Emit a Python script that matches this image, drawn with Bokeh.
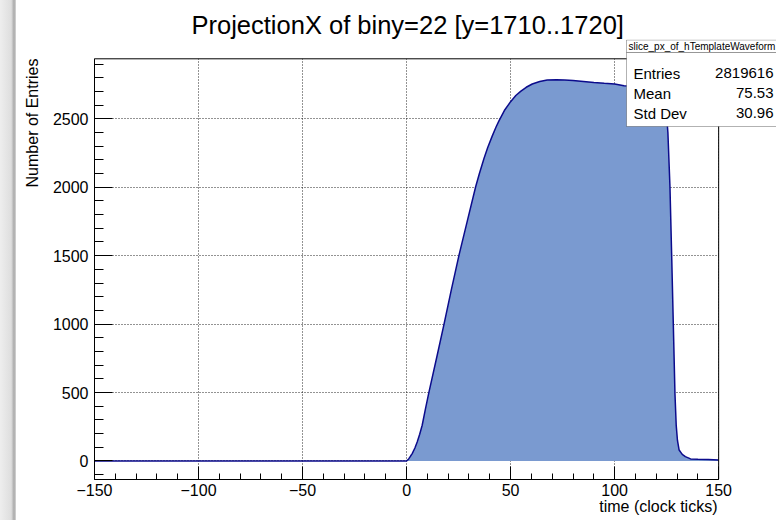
from bokeh.plotting import figure
from bokeh.models import (FixedTicker, Label, BoxAnnotation, Range1d,
                          ColumnDataSource, Div, Title)
from bokeh.layouts import row
from bokeh.embed import file_html
from bokeh.resources import INLINE

# ---------------- data ----------------
title_text = "ProjectionX of biny=22 [y=1710..1720]"
x_axis_title = "time (clock ticks)"
y_axis_title = "Number of Entries"
hist_name = "slice_px_of_hTemplateWaveform"
stat_names = ["Entries", "Mean", "Std Dev"]
stat_values = ["2819616", "75.53", "30.96"]

time_ticks = [-150, 0, 1, 2, 2.7, 4, 5.1, 6.3, 7.5, 9, 10.7, 14.5, 18, 21.5,
              25.2, 29.2, 33.2, 35, 37.2, 39, 41.2, 43, 44.4, 47, 50, 52.5,
              54.8, 57.5, 60.4, 64, 67.6, 72, 76, 80, 85, 90, 95, 100, 104.5,
              110, 115, 120, 122.5, 124, 125, 125.6, 126.6, 127.4, 128.2, 129,
              129.6, 130.2, 131, 132.5, 134, 136.5, 140, 145, 150]
counts = [0, 0, 15, 38, 54, 95, 139, 195, 261, 375, 500, 758, 1000, 1250,
          1504, 1754, 2003, 2100, 2210, 2290, 2375, 2440, 2485, 2560, 2625, 2670,
          2700, 2730, 2754, 2772, 2783, 2785, 2784, 2780, 2773, 2765, 2759, 2754, 2741,
          2735, 2728, 2715, 2690, 2630, 2520, 2400, 2000, 1510, 1000, 490,
          260, 150, 80, 48, 32, 15, 12, 10, 8]

x_major_ticks = [-150, -100, -50, 0, 50, 100, 150]
x_tick_labels = ["\u2212150", "\u2212100", "\u221250", "0", "50", "100", "150"]
x_minor_ticks = list(range(-150, 151, 10))
y_major_ticks = [0, 500, 1000, 1500, 2000, 2500]
y_tick_labels = ["0", "500", "1000", "1500", "2000", "2500"]
y_minor_ticks = list(range(-100, 2901, 100))

# ROOT frame limits, and the wider Bokeh view (room for the stats box)
x_frame = (-150, 150)
y_frame = (-135, 2938)
x_view = (-150, 177.8)
y_view = (-135.2, 3079)

# ---------------- styling ----------------
FONT = "Liberation Sans"
FILL = "#7a9ad0"
LINE = "#0b0b8c"
BAND = 16
W, H = 776 - BAND, 520
FRAME_TOP, FRAME_BOTTOM, FRAME_LEFT, FRAME_RIGHT = 39, 479, 93, 776  # page px


def sx(px):
    return px - FRAME_LEFT


def sy(py):
    return FRAME_BOTTOM - py


p = figure(width=W, height=H, output_backend="svg", toolbar_location=None,
           x_range=Range1d(*x_view), y_range=Range1d(*y_view),
           min_border_left=FRAME_LEFT - BAND, min_border_right=0,
           min_border_top=FRAME_TOP, min_border_bottom=H - FRAME_BOTTOM,
           background_fill_color="white", border_fill_color="white")
p.outline_line_color = None

p.title.text = title_text
p.title.align = "left"
p.title.offset = 190 - FRAME_LEFT
p.title.vertical_align = "bottom"
p.title.text_font = FONT
p.title.text_font_size = "25.5px"
p.title.text_font_style = "normal"
p.title.text_color = "black"
p.title.standoff = 2

xt = FixedTicker(ticks=x_major_ticks, minor_ticks=x_minor_ticks)
yt = FixedTicker(ticks=y_major_ticks, minor_ticks=y_minor_ticks)
p.xaxis.ticker = xt
p.yaxis.ticker = yt
p.xgrid.ticker = FixedTicker(ticks=x_major_ticks)
p.ygrid.ticker = FixedTicker(ticks=y_major_ticks)
p.xaxis.major_label_overrides = dict(zip(x_major_ticks, x_tick_labels))
p.yaxis.major_label_overrides = dict(zip(y_major_ticks, y_tick_labels))
p.xaxis.bounds = x_frame
p.yaxis.bounds = y_frame

for ax in (p.xaxis[0], p.yaxis[0]):
    ax.major_tick_out = 0
    ax.minor_tick_out = 0
    ax.axis_line_color = "black"
    ax.major_tick_line_color = "black"
    ax.minor_tick_line_color = "black"
    ax.major_label_text_font = FONT
    ax.major_label_text_font_size = "16px"
    ax.major_label_text_color = "black"
p.xaxis.major_label_standoff = 4
p.yaxis.major_label_standoff = 6
p.xaxis.major_tick_in = 13
p.xaxis.minor_tick_in = 6
p.yaxis.major_tick_in = 18
p.yaxis.minor_tick_in = 9

p.grid.grid_line_color = "black"
p.grid.grid_line_dash = "1 2"
p.grid.grid_line_width = 1
p.grid.grid_line_alpha = 0.85

# hide the view outside the ROOT frame (grid overflow)
p.add_layout(BoxAnnotation(left=x_frame[1], fill_color="white", fill_alpha=1,
                           line_alpha=0, level="underlay"))
p.add_layout(BoxAnnotation(bottom=y_frame[1], fill_color="white", fill_alpha=1,
                           line_alpha=0, level="underlay"))

src = ColumnDataSource(dict(t=time_ticks, n=counts))
p.varea(x="t", y1=0, y2="n", source=src, fill_color=FILL)
p.line(x="t", y="n", source=src, line_color=LINE, line_width=1.5)

# top and right edges of the ROOT frame
p.segment(x0=[x_frame[0], x_frame[1]], y0=[y_frame[1], y_frame[0]],
          x1=[x_frame[1], x_frame[1]], y1=[y_frame[1], y_frame[1]],
          line_color="black", line_width=1)

# axis titles (ROOT aligns them to the axis end)
ytitle = Title(text=y_axis_title, align="right", offset=58 - FRAME_TOP,
               vertical_align="top", text_font=FONT, text_font_size="16px",
               text_font_style="normal", text_color="black", standoff=14)
p.add_layout(ytitle, "left")
xtitle = Title(text=x_axis_title, align="right", offset=FRAME_RIGHT - 717,
               vertical_align="top", text_font=FONT, text_font_size="16px",
               text_font_style="normal", text_color="black", standoff=-2)
p.add_layout(xtitle, "below")

# stats box
BOX_L, BOX_R = 625, 790
p.add_layout(BoxAnnotation(left=sx(BOX_L), right=sx(BOX_R), top=sy(39.5), bottom=sy(52),
                           left_units="screen", right_units="screen",
                           top_units="screen", bottom_units="screen",
                           fill_color="white", fill_alpha=1,
                           line_color="black", line_width=1, level="overlay"))
p.add_layout(BoxAnnotation(left=sx(BOX_L), right=sx(BOX_R), top=sy(52), bottom=sy(126),
                           left_units="screen", right_units="screen",
                           top_units="screen", bottom_units="screen",
                           fill_color="white", fill_alpha=1,
                           line_color="black", line_width=1, level="overlay"))
p.add_layout(Label(x=sx(627), y=sy(46), x_units="screen", y_units="screen",
                   text=hist_name, text_baseline="middle", text_font=FONT,
                   text_font_size="10px", text_color="black", level="overlay"))
for i, (nm, vl) in enumerate(zip(stat_names, stat_values)):
    yy = sy(72.5 + 20 * i)
    p.add_layout(Label(x=sx(632), y=yy, x_units="screen", y_units="screen",
                       text=nm, text_baseline="middle", text_font=FONT,
                       text_font_size="15px", text_color="black",
                       level="overlay"))
    p.add_layout(Label(x=sx(772), y=yy, x_units="screen", y_units="screen",
                       text=vl, text_align="right", text_baseline="middle",
                       text_font=FONT, text_font_size="15px",
                       text_color="black", level="overlay"))

band = Div(text="", width=BAND, height=H, margin=0,
           styles={"background": "linear-gradient(to right, #eeeeee 0%, #dedede 70%, #a9a9a9 88%, #d8d8d8 100%)"})

layout = row(band, p, spacing=0)
open("out.html", "w").write(file_html(layout, INLINE))
